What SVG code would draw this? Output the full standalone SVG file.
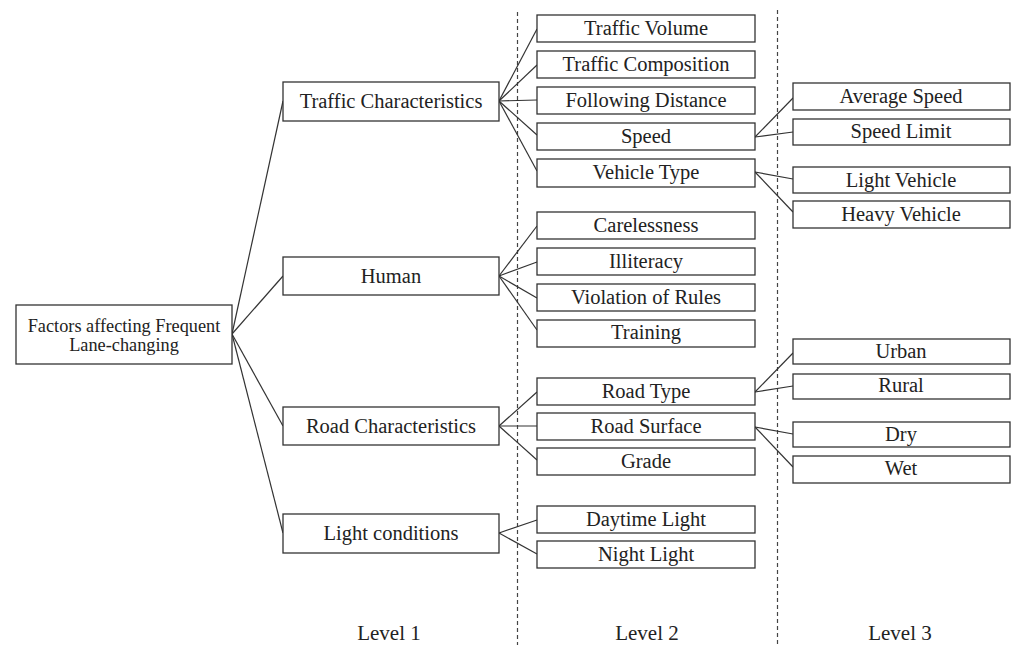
<svg xmlns="http://www.w3.org/2000/svg" width="1011" height="645" viewBox="0 0 1011 645">
<style>
rect{fill:#fff;stroke:#333;stroke-width:1.3}
text{font-family:"Liberation Serif","Times New Roman",serif;font-size:20.5px;fill:#222;text-anchor:middle}
.c line{stroke:#333;stroke-width:1.2}
.d{stroke:#444;stroke-width:1.2;stroke-dasharray:4,3}
.s{font-size:18.3px}
.l{font-size:21px}
</style>
<rect x="0" y="0" width="1011" height="645" style="stroke:none"/>
<line class="d" x1="517.5" y1="12" x2="517.5" y2="645"/>
<line class="d" x1="777.5" y1="10" x2="777.5" y2="645"/>
<g class="c">
<line x1="232" y1="334" x2="283" y2="101"/>
<line x1="232" y1="334" x2="283" y2="276"/>
<line x1="232" y1="334" x2="283" y2="426"/>
<line x1="232" y1="334" x2="283" y2="533"/>
<line x1="499" y1="101" x2="537" y2="29"/>
<line x1="499" y1="101" x2="537" y2="65"/>
<line x1="499" y1="101" x2="537" y2="100"/>
<line x1="499" y1="101" x2="537" y2="135"/>
<line x1="499" y1="101" x2="537" y2="171"/>
<line x1="499" y1="276" x2="537" y2="226"/>
<line x1="499" y1="276" x2="537" y2="262"/>
<line x1="499" y1="276" x2="537" y2="298"/>
<line x1="499" y1="276" x2="537" y2="330"/>
<line x1="499" y1="426" x2="537" y2="392"/>
<line x1="499" y1="426" x2="537" y2="426"/>
<line x1="499" y1="426" x2="537" y2="460"/>
<line x1="499" y1="533" x2="537" y2="520"/>
<line x1="499" y1="533" x2="537" y2="554"/>
<line x1="755" y1="137" x2="793" y2="98"/>
<line x1="755" y1="137" x2="793" y2="132"/>
<line x1="755" y1="172" x2="793" y2="179"/>
<line x1="755" y1="172" x2="793" y2="212"/>
<line x1="755" y1="392" x2="793" y2="353"/>
<line x1="755" y1="392" x2="793" y2="386"/>
<line x1="755" y1="427" x2="793" y2="434"/>
<line x1="755" y1="427" x2="793" y2="467"/>
</g>
<g id="root"><rect x="16" y="305" width="216" height="59"/><text class="s" x="124" y="332">Factors affecting Frequent</text><text class="s" x="124" y="351">Lane-changing</text></g>
<g id="traffic"><rect x="283" y="82" width="216" height="39"/><text x="391" y="108">Traffic Characteristics</text></g>
<g id="human"><rect x="283" y="257" width="216" height="38"/><text x="391" y="283">Human</text></g>
<g id="road"><rect x="283" y="407" width="216" height="38"/><text x="391" y="433">Road Characteristics</text></g>
<g id="light"><rect x="283" y="514" width="216" height="39"/><text x="391" y="540">Light conditions</text></g>
<g id="volume"><rect x="537" y="15" width="218" height="27"/><text x="646" y="35">Traffic Volume</text></g>
<g id="composition"><rect x="537" y="51" width="218" height="27"/><text x="646" y="71">Traffic Composition</text></g>
<g id="following"><rect x="537" y="87" width="218" height="27"/><text x="646" y="107">Following Distance</text></g>
<g id="speed"><rect x="537" y="123" width="218" height="27"/><text x="646" y="143">Speed</text></g>
<g id="vehicle"><rect x="537" y="159" width="218" height="28"/><text x="646" y="179">Vehicle Type</text></g>
<g id="careless"><rect x="537" y="212" width="218" height="27"/><text x="646" y="232">Carelessness</text></g>
<g id="illiteracy"><rect x="537" y="248" width="218" height="27"/><text x="646" y="268">Illiteracy</text></g>
<g id="violation"><rect x="537" y="284" width="218" height="27"/><text x="646" y="304">Violation of Rules</text></g>
<g id="training"><rect x="537" y="320" width="218" height="27"/><text x="646" y="339">Training</text></g>
<g id="roadtype"><rect x="537" y="378" width="218" height="27"/><text x="646" y="398">Road Type</text></g>
<g id="surface"><rect x="537" y="413" width="218" height="27"/><text x="646" y="433">Road Surface</text></g>
<g id="grade"><rect x="537" y="448" width="218" height="27"/><text x="646" y="468">Grade</text></g>
<g id="daytime"><rect x="537" y="506" width="218" height="27"/><text x="646" y="526">Daytime Light</text></g>
<g id="night"><rect x="537" y="541" width="218" height="27"/><text x="646" y="561">Night Light</text></g>
<g id="avgspeed"><rect x="793" y="83" width="217" height="27"/><text x="901" y="103">Average Speed</text></g>
<g id="limit"><rect x="793" y="119" width="217" height="26"/><text x="901" y="138">Speed Limit</text></g>
<g id="lightveh"><rect x="793" y="167" width="217" height="26"/><text x="901" y="187">Light Vehicle</text></g>
<g id="heavyveh"><rect x="793" y="201" width="217" height="27"/><text x="901" y="221">Heavy Vehicle</text></g>
<g id="urban"><rect x="793" y="339" width="217" height="25"/><text x="901" y="358">Urban</text></g>
<g id="rural"><rect x="793" y="374" width="217" height="25"/><text x="901" y="392">Rural</text></g>
<g id="dry"><rect x="793" y="422" width="217" height="25"/><text x="901" y="441">Dry</text></g>
<g id="wet"><rect x="793" y="456" width="217" height="27"/><text x="901" y="475">Wet</text></g>
<text class="l" x="389" y="640">Level 1</text>
<text class="l" x="647" y="640">Level 2</text>
<text class="l" x="900" y="640">Level 3</text>
</svg>
